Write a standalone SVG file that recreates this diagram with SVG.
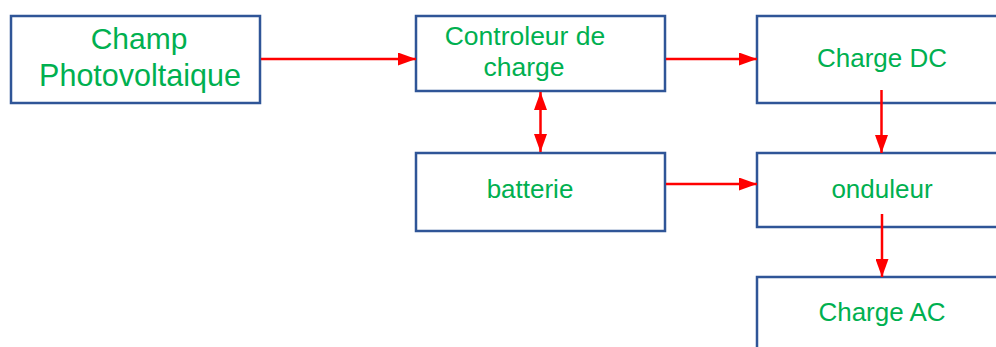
<svg xmlns="http://www.w3.org/2000/svg" width="996" height="347" viewBox="0 0 996 347">
<style>
.box{fill:#fff;stroke:#2F5597;stroke-width:2.5}
.t{font-family:"Liberation Sans",Arial,sans-serif;fill:#00B050;text-anchor:middle}
.c{stroke:#FF0000;stroke-width:2.5;fill:none}
</style>
<defs>
<marker id="ah" markerUnits="userSpaceOnUse" markerWidth="18" markerHeight="13" refX="18" refY="6.5" orient="auto-start-reverse" viewBox="0 0 18 13">
<path d="M0,0 L18,6.5 L0,13 z" fill="#FF0000"/>
</marker>
</defs>
<rect width="996" height="347" fill="#fff"/>
<g id="champ">
<rect class="box" x="11" y="16" width="249" height="87"/>
<text class="t" x="139" y="49" font-size="30">Champ</text>
<text class="t" x="140" y="86" font-size="30.5">Photovoltaique</text>
</g>
<g id="controleur">
<rect class="box" x="416" y="16" width="249" height="75"/>
<text class="t" x="525" y="45" font-size="26.5">Controleur de</text>
<text class="t" x="524" y="76" font-size="26.5">charge</text>
</g>
<g id="chargedc">
<rect class="box" x="757" y="16" width="260" height="87"/>
<text class="t" x="882" y="67" font-size="26">Charge DC</text>
</g>
<g id="batterie">
<rect class="box" x="416" y="153" width="249" height="78"/>
<text class="t" x="530" y="198" font-size="26">batterie</text>
</g>
<g id="onduleur">
<rect class="box" x="757" y="153" width="260" height="74"/>
<text class="t" x="882" y="198" font-size="26">onduleur</text>
</g>
<g id="chargeac">
<rect class="box" x="757" y="277" width="260" height="100"/>
<text class="t" x="882" y="321" font-size="26">Charge AC</text>
</g>
<g id="connectors">
<line class="c" x1="261" y1="59" x2="416" y2="59" marker-end="url(#ah)"/>
<line class="c" x1="666" y1="59" x2="757" y2="59" marker-end="url(#ah)"/>
<line class="c" x1="540.5" y1="92" x2="540.5" y2="152" marker-start="url(#ah)" marker-end="url(#ah)"/>
<line class="c" x1="666" y1="184" x2="757" y2="184" marker-end="url(#ah)"/>
<line class="c" x1="881.5" y1="90" x2="881.5" y2="153" marker-end="url(#ah)"/>
<line class="c" x1="882" y1="214" x2="882" y2="277" marker-end="url(#ah)"/>
</g>
</svg>
